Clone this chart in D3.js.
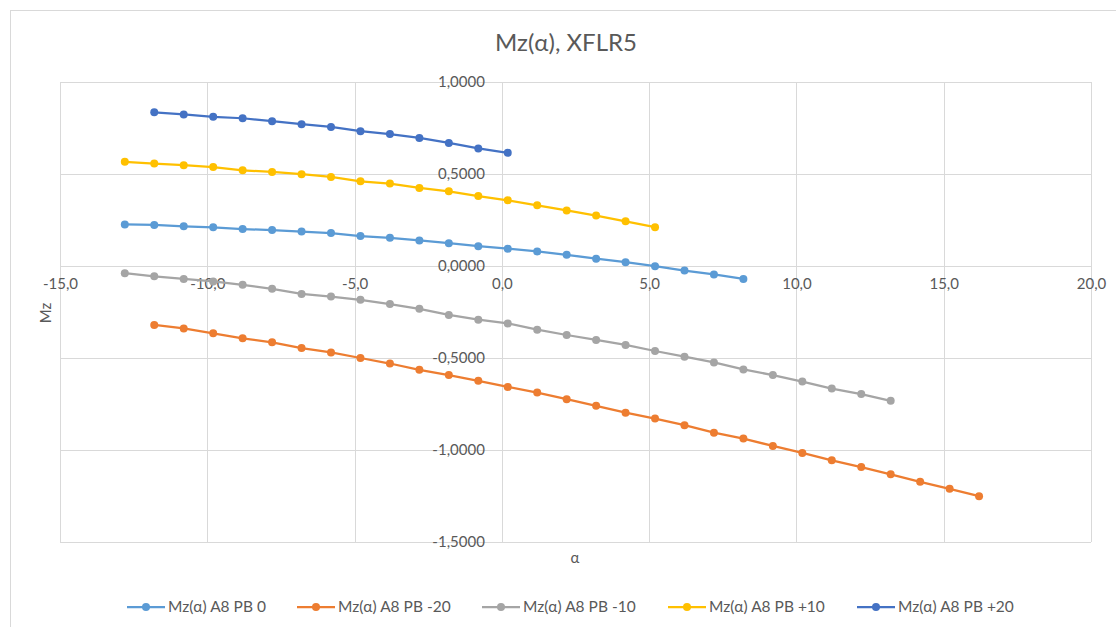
<!DOCTYPE html>
<html>
<head>
<meta charset="utf-8">
<script src="https://cdn.jsdelivr.net/npm/d3@7"></script>
<style>
    body { margin: 0; background: #fff; }
    svg text { font-family: Lato, 'Open Sans', sans-serif; fill: #595959; }
    .grid-line { stroke: #d9d9d9; stroke-width: 1; shape-rendering: crispEdges; }
</style>
</head>
<body>
<div id="mz-plot"></div>
<script>
// alpha values (deg) for every series
let alphaPB0 = [-12.8, -11.8, -10.8, -9.8, -8.8, -7.8, -6.8, -5.8, -4.8, -3.8, -2.8,
                -1.8, -0.8, 0.2, 1.2, 2.2, 3.2, 4.2, 5.2, 6.2, 7.2, 8.2];
let alphaPBm20 = [-11.8, -10.8, -9.8, -8.8, -7.8, -6.8, -5.8, -4.8, -3.8, -2.8, -1.8,
                  -0.8, 0.2, 1.2, 2.2, 3.2, 4.2, 5.2, 6.2, 7.2, 8.2, 9.2, 10.2, 11.2,
                  12.2, 13.2, 14.2, 15.2, 16.2];
let alphaPBm10 = [-12.8, -11.8, -10.8, -9.8, -8.8, -7.8, -6.8, -5.8, -4.8, -3.8, -2.8,
                  -1.8, -0.8, 0.2, 1.2, 2.2, 3.2, 4.2, 5.2, 6.2, 7.2, 8.2, 9.2, 10.2,
                  11.2, 12.2, 13.2];
let alphaPBp10 = [-12.8, -11.8, -10.8, -9.8, -8.8, -7.8, -6.8, -5.8, -4.8, -3.8, -2.8,
                  -1.8, -0.8, 0.2, 1.2, 2.2, 3.2, 4.2, 5.2];
let alphaPBp20 = [-11.8, -10.8, -9.8, -8.8, -7.8, -6.8, -5.8, -4.8, -3.8, -2.8, -1.8,
                  -0.8, 0.2];

// Mz values
let mzPB0 = [0.226, 0.223, 0.216, 0.210, 0.201, 0.195, 0.187, 0.179, 0.163, 0.153, 0.139,
             0.124, 0.108, 0.094, 0.079, 0.061, 0.040, 0.021, -0.001, -0.025, -0.046, -0.070];
let mzPBm20 = [-0.320, -0.339, -0.366, -0.393, -0.415, -0.446, -0.470, -0.500, -0.530, -0.564,
               -0.593, -0.624, -0.657, -0.688, -0.724, -0.760, -0.797, -0.829, -0.865, -0.906,
               -0.938, -0.978, -1.016, -1.056, -1.093, -1.132, -1.173, -1.211, -1.251];
let mzPBm10 = [-0.039, -0.056, -0.070, -0.084, -0.102, -0.124, -0.152, -0.166, -0.184, -0.207,
               -0.233, -0.266, -0.292, -0.312, -0.346, -0.375, -0.402, -0.429, -0.462, -0.493,
               -0.524, -0.562, -0.593, -0.628, -0.666, -0.696, -0.733];
let mzPBp10 = [0.566, 0.557, 0.548, 0.538, 0.520, 0.511, 0.499, 0.484, 0.460, 0.448, 0.424,
               0.406, 0.380, 0.357, 0.330, 0.302, 0.274, 0.243, 0.211];
let mzPBp20 = [0.835, 0.824, 0.811, 0.803, 0.787, 0.771, 0.756, 0.733, 0.717, 0.696, 0.669,
               0.639, 0.615];

let seriesNames = ['Mz(α) A8 PB 0', 'Mz(α) A8 PB -20', 'Mz(α) A8 PB -10',
                   'Mz(α) A8 PB +10', 'Mz(α) A8 PB +20'];
let seriesColors = ['#5b9bd5', '#ed7d31', '#a5a5a5', '#ffc000', '#4472c4'];

let xTicks = [-15, -10, -5, 0, 5, 10, 15, 20];
let yTicks = [-1.5, -1, -0.5, 0, 0.5, 1];

function mzChart() {
    let locale = d3.formatLocale({
        decimal: ',', thousands: ' ', grouping: [3], currency: ['', ''], minus: '-'
    });
    let series = [
        [alphaPB0, mzPB0], [alphaPBm20, mzPBm20], [alphaPBm10, mzPBm10],
        [alphaPBp10, mzPBp10], [alphaPBp20, mzPBp20]
    ].map((s, i) => ({
        name: seriesNames[i],
        color: seriesColors[i],
        points: s[0].map((a, j) => ({a: a, mz: s[1][j]}))
    }));

    let svgWidth = 1116,
        svgHeight = 627,
        svg = d3.select('#mz-plot').append('svg')
                .attr('width', svgWidth)
                .attr('height', svgHeight);

    // chart border
    svg.append('rect')
       .attr('x', 10.5).attr('y', 10.5)
       .attr('width', 1120).attr('height', 630)
       .attr('fill', 'none')
       .attr('stroke', '#d9d9d9');

    let xScale = d3.scaleLinear().domain([-15, 20]).range([60, 1091]),
        yScale = d3.scaleLinear().domain([-1.5, 1]).range([542, 82]);

    // gridlines
    let grid = svg.append('g').attr('class', 'grid');
    grid.selectAll('line.vx')
        .data(xTicks).enter().append('line')
        .attr('class', 'grid-line vx')
        .attr('x1', d => Math.round(xScale(d)) + 0.5).attr('x2', d => Math.round(xScale(d)) + 0.5)
        .attr('y1', yScale(1)).attr('y2', yScale(-1.5));
    grid.selectAll('line.hy')
        .data(yTicks).enter().append('line')
        .attr('class', 'grid-line hy')
        .attr('y1', d => Math.round(yScale(d)) + 0.5).attr('y2', d => Math.round(yScale(d)) + 0.5)
        .attr('x1', xScale(-15)).attr('x2', xScale(20));

    // axes crossing at zero, labels only
    let xAxis = d3.axisBottom(xScale)
                  .tickValues(xTicks)
                  .tickSize(0).tickPadding(12)
                  .tickFormat(locale.format('.1f'));
    svg.append('g')
       .attr('transform', `translate(0, ${yScale(0)})`)
       .call(xAxis);
    let yAxis = d3.axisLeft(yScale)
                  .tickValues(yTicks)
                  .tickSize(0).tickPadding(17)
                  .tickFormat(locale.format('.4f'));
    svg.append('g')
       .attr('transform', `translate(${xScale(0)}, 0)`)
       .call(yAxis);
    svg.selectAll('path.domain').remove();
    svg.selectAll('.tick text')
       .attr('font-size', 15)
       .style('font-family', 'Lato, sans-serif')
       .attr('fill', '#595959');

    // titles
    svg.append('text')
       .attr('x', 566).attr('y', 51)
       .attr('text-anchor', 'middle')
       .attr('font-size', 24)
       .text('Mz(α), XFLR5');
    svg.append('text')
       .attr('x', 575).attr('y', 563)
       .attr('text-anchor', 'middle')
       .attr('font-size', 15)
       .text('α');
    svg.append('text')
       .attr('transform', 'translate(51, 313) rotate(-90)')
       .attr('text-anchor', 'middle')
       .attr('font-size', 15)
       .text('Mz');

    // lines and dots
    let line = d3.line().x(d => xScale(d.a)).y(d => yScale(d.mz));
    let seriesGroups = svg.append('g').attr('class', 'series')
                          .selectAll('g').data(series).enter().append('g');
    seriesGroups.append('path')
                .attr('d', d => line(d.points))
                .attr('fill', 'none')
                .attr('stroke', d => d.color)
                .attr('stroke-width', 2.25);
    seriesGroups.each(function (s) {
        d3.select(this).selectAll('circle')
          .data(s.points).enter().append('circle')
          .attr('cx', d => xScale(d.a))
          .attr('cy', d => yScale(d.mz))
          .attr('r', 4)
          .attr('fill', s.color);
    });

    // legend
    let legendX = [127, 297, 482, 668, 857];
    let legend = svg.append('g').attr('class', 'legend')
                    .selectAll('g').data(series).enter().append('g')
                    .attr('transform', (d, i) => `translate(${legendX[i]}, 607)`);
    legend.append('line')
          .attr('x1', 0).attr('x2', 38)
          .attr('stroke', d => d.color)
          .attr('stroke-width', 2.25);
    legend.append('circle')
          .attr('cx', 19).attr('r', 4)
          .attr('fill', d => d.color);
    legend.append('text')
          .attr('x', 41).attr('y', 5)
          .attr('font-size', 15.5)
          .text(d => d.name);
}

mzChart();
</script>
</body>
</html>
